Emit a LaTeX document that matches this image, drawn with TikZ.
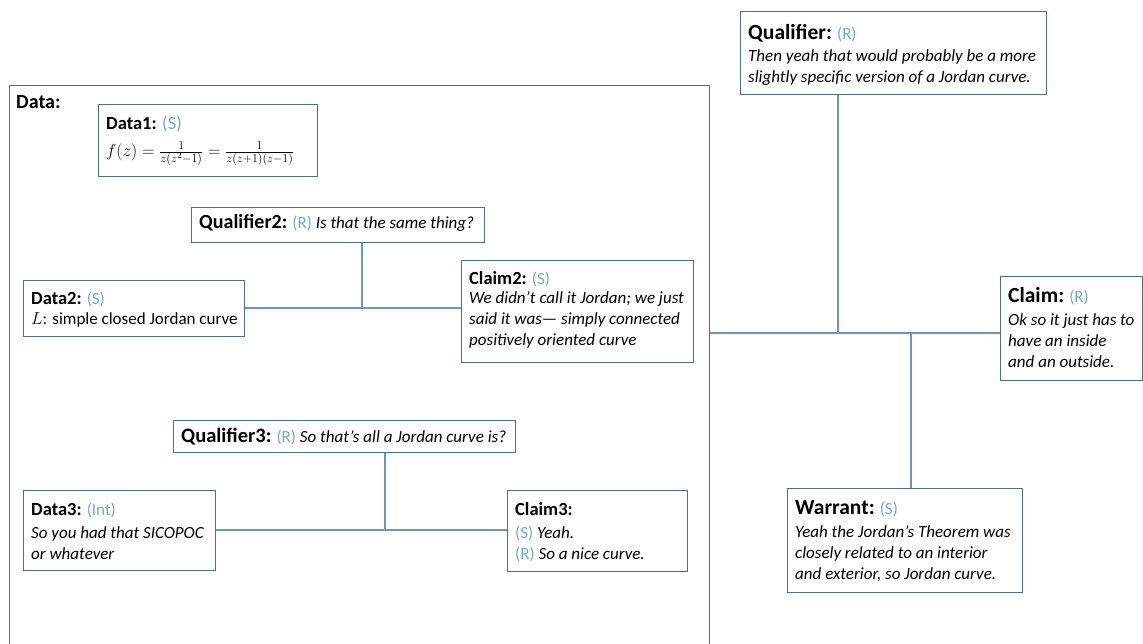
\documentclass[tikz,border=0pt]{standalone}
\usepackage{fontspec}
\setmainfont{Carlito}
\definecolor{boxline}{RGB}{78,110,142}
\definecolor{link}{RGB}{108,150,192}
\definecolor{tag}{RGB}{122,164,208}
% role tag in light blue, upright
\newcommand{\tg}[1]{\textcolor{tag}{\upshape\mdseries #1}}
% bold heading of a box at a given size, with a fixed strut on its line
\newcommand{\hd}[2]{\rule{0pt}{16pt}{\upshape\bfseries\fontsize{#1}{#1}\selectfont #2}}

\begin{document}
\begin{tikzpicture}[x=1pt,y=-1pt,
  box/.style={draw=boxline, line width=1.4pt, anchor=north west, inner sep=0pt},
  txt/.style={anchor=north west, inner sep=0pt, align=left,
    font=\fontsize{17}{21}\selectfont\itshape},
  conn/.style={draw=link, line width=1.3pt}]
\useasboundingbox (0,0) rectangle (1143,644);
\clip (0,0) rectangle (1143,644);

% outer data frame
\node[box, minimum width=700, minimum height=600] (databox) at (9,85) {};
\node[anchor=north west, inner sep=0pt, font=\bfseries\fontsize{20}{22}\selectfont] (datalbl) at (16,92) {\rule{0pt}{16pt}Data:};

% Data1
\node[box, minimum width=219, minimum height=72] (d1) at (98,104) {};
\node[txt, font=\fontsize{18.5}{27}\selectfont] (d1t) at (106,113)
  {\hd{18.5}{Data1:} \tg{(S)}\\ $f(z)=\frac{1}{z(z^2-1)}=\frac{1}{z(z+1)(z-1)}$};

% Qualifier2 / Data2 / Claim2
\node[box, minimum width=293, minimum height=35] (q2) at (191,207) {};
\node[txt] (q2t) at (199,212)
  {\hd{20}{Qualifier2:} \tg{(R)} Is that the same thing?};

\node[box, minimum width=221, minimum height=56] (d2) at (23,280) {};
\node[txt, font=\fontsize{17}{20}\selectfont] (d2t) at (31,288)
  {\hd{18.5}{Data2:} \tg{(S)}\\ $L$: simple closed Jordan curve};

\node[box, minimum width=232, minimum height=102] (c2) at (461,260) {};
\node[txt] (c2t) at (469,268)
  {\hd{18.5}{Claim2:} \tg{(S)}\\[-2pt] We didn't call it Jordan; we just\\ said it was--- simply connected\\ positively oriented curve};

\coordinate (hub2) at (362,308);
\draw[conn] (d2.east |- hub2) -- (c2.west |- hub2);
\draw[conn] (q2.south -| hub2) -- (hub2);

% Qualifier3 / Data3 / Claim3
\node[box, minimum width=342, minimum height=32] (q3) at (173,420) {};
\node[txt] (q3t) at (181,426)
  {\hd{20.5}{Qualifier3:} \tg{(R)} So that's all a Jordan curve is?};

\node[box, minimum width=192, minimum height=80] (d3) at (23,490) {};
\node[txt] (d3t) at (31,499)
  {\hd{18.5}{Data3:} \tg{(Int)}\\[2pt] So you had that SICOPOC\\ or whatever};

\node[box, minimum width=180, minimum height=81] (c3) at (507,490) {};
\node[txt] (c3t) at (515,499)
  {\hd{18.5}{Claim3:}\\[2pt] \tg{(S)} Yeah.\\ \tg{(R)} So a nice curve.};

\coordinate (hub3) at (385,530);
\draw[conn] (d3.east |- hub3) -- (c3.west |- hub3);
\draw[conn] (q3.south -| hub3) -- (hub3);

% main argument: Qualifier, Claim, Warrant
\node[box, minimum width=306, minimum height=83] (q) at (740,11) {};
\node[txt] (qt) at (748,23)
  {\hd{21.5}{Qualifier:} \tg{(R)}\\[1pt] Then yeah that would probably be a more\\ slightly specific version of a Jordan curve.};

\node[box, minimum width=142, minimum height=104] (c) at (1000,276) {};
\node[txt] (ct) at (1008,286)
  {\hd{21.5}{Claim:} \tg{(R)}\\[2pt] Ok so it just has to\\ have an inside\\ and an outside.};

\node[box, minimum width=235, minimum height=104] (w) at (787,488) {};
\node[txt] (wt) at (795,498)
  {\hd{21.5}{Warrant:} \tg{(S)}\\[2pt] Yeah the Jordan's Theorem was\\ closely related to an interior\\ and exterior, so Jordan curve.};

\coordinate (hub) at (838,333);
\coordinate (wtop) at (911,333);
\draw[conn] (databox.east |- hub) -- (c.west |- hub);
\draw[conn] (q.south -| hub) -- (hub);
\draw[conn] (wtop) -- (w.north -| wtop);
\end{tikzpicture}
\end{document}
